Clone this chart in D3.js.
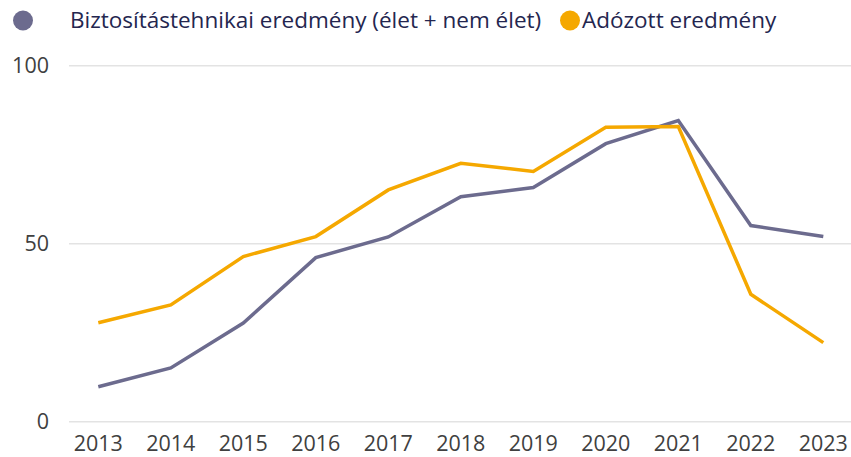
<!DOCTYPE html>
<html><head><meta charset="utf-8">
<script src="https://cdn.jsdelivr.net/npm/d3@7"></script>
<style>body{margin:0;background:#fff;}svg{display:block;font-family:"Open Sans",sans-serif;}</style>
</head><body><svg id="c" width="851" height="457"></svg>
<script>
const years = ["2013","2014","2015","2016","2017","2018","2019","2020","2021","2022","2023"];
const technical = [9.8, 15.1, 27.7, 46.1, 51.9, 63.2, 65.8, 78.1, 84.6, 55.1, 52.0];
const afterTax = [27.8, 32.8, 46.4, 52.0, 65.1, 72.6, 70.3, 82.7, 82.9, 35.8, 22.2];
const yTicks = [0, 50, 100];
const seriesNames = ["Biztosítástehnikai eredmény (élet + nem élet)", "Adózott eredmény"];
const colors = ["#6c6b8e", "#f5a800"];

const svg = d3.select("#c");
const x = d3.scalePoint().domain(years).range([98.3, 823.3]);
const y = d3.scaleLinear().domain([0, 100]).range([421.7, 65.7]);

svg.append("g").selectAll("line").data(yTicks).join("line")
  .attr("x1", 69).attr("x2", 851)
  .attr("y1", d => y(d)).attr("y2", d => y(d))
  .attr("stroke", "#e3e3e3").attr("stroke-width", 1.5);

svg.append("g").selectAll("text").data(yTicks).join("text")
  .attr("x", 49).attr("y", d => y(d)).attr("dy", "0.35em")
  .attr("text-anchor", "end").attr("font-size", 21.5).attr("fill", "#404040")
  .text(d => d);

svg.append("g").selectAll("text").data(years).join("text")
  .attr("x", d => x(d)).attr("y", 451)
  .attr("text-anchor", "middle").attr("font-size", 21.5).attr("fill", "#404040")
  .text(d => d);

const line = d3.line().x((d, i) => x(years[i])).y(d => y(d));
[technical, afterTax].forEach((s, k) => {
  svg.append("path").datum(s).attr("d", line)
    .attr("fill", "none").attr("stroke", colors[k]).attr("stroke-width", 3.5)
    .attr("stroke-linejoin", "miter");
});

const legend = [{x: 23, tx: 70}, {x: 570, tx: 582}];
legend.forEach((l, k) => {
  svg.append("circle").attr("cx", l.x).attr("cy", 20.5).attr("r", 10).attr("fill", colors[k]);
  svg.append("text").attr("x", l.tx).attr("y", 20.5).attr("dy", "0.35em")
    .attr("font-size", 22.5).attr("fill", "#24264f").text(seriesNames[k]);
});
</script></body></html>
